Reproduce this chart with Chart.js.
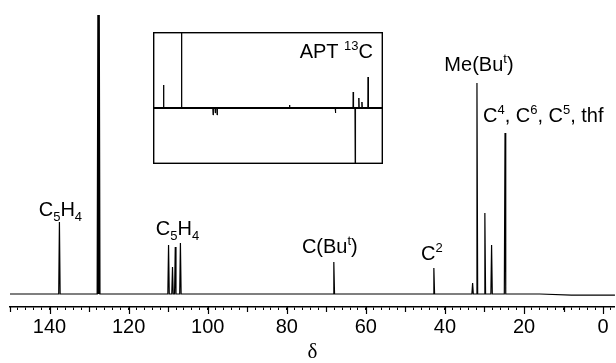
<!DOCTYPE html>
<html>
<head>
<meta charset="utf-8">
<script src="https://cdn.jsdelivr.net/npm/chart.js@4.4.1/dist/chart.umd.min.js"></script>
<style>
html, body { margin: 0; padding: 0; background: #fff; }
#wrap { position: relative; width: 616px; height: 363px; }
#spectrum { position: absolute; left: 0; top: 0; }
#apt { position: absolute; left: 153px; top: 32px; }
</style>
</head>
<body>
<div id="wrap">
  <canvas id="spectrum" width="616" height="363"></canvas>
  <canvas id="apt" width="230" height="132"></canvas>
</div>
<script>
// 13C spectrum: shifts (ppm) and peak heights
const shifts  = [137.5, 127.6, 109.9, 108.9, 108.2, 106.9, 68.1, 42.8, 33.0, 31.9, 29.9, 28.2, 24.8];
const heights = [72, 279, 49, 27, 47, 51, 32, 26, 11, 211, 81, 49, 161];
// baseline sags a little at high field
const baseShifts  = [150, 16, 8, -3];
const baseHeights = [0, 0, -1.2, -1.2];

// APT inset (C and CH2 up, CH and CH3 down)
const aptShifts  = [137.5, 127.6, 110.2, 109.0, 108.0, 68.1, 42.8, 33.0, 31.9, 29.9, 28.2, 24.8];
const aptHeights = [23, 100, -7, -5, -7, 3, -5, 16, -80, 10, 6, 31];

const tickLabels = [140, 120, 100, 80, 60, 40, 20, 0];
const solventShift = 127.6;

const FONT = "'Liberation Sans', Arial, Helvetica, sans-serif";
const HALF = 0.18; // half width of a line, ppm

// turn peak lists into a stick trace (baseline -> top -> baseline)
function buildTrace(xs, ys, bx, by) {
  const pts = [];
  xs.forEach((x, i) => {
    pts.push({ x: x + HALF, y: 0 }, { x: x, y: ys[i] }, { x: x - HALF, y: 0 });
  });
  bx.forEach((x, i) => pts.push({ x: x, y: by[i] }));
  return pts.sort((a, b) => b.x - a.x);
}

// text with sub / superscripts
function drawRich(ctx, parts, x, y, align) {
  const big = 20, small = 13;
  let w = 0;
  parts.forEach(p => {
    ctx.font = (p[1] ? small : big) + 'px ' + FONT;
    w += ctx.measureText(p[0]).width;
  });
  let cx = align === 'center' ? x - w / 2 : (align === 'right' ? x - w : x);
  ctx.textAlign = 'left';
  ctx.textBaseline = 'alphabetic';
  ctx.fillStyle = '#000';
  parts.forEach(p => {
    ctx.font = (p[1] ? small : big) + 'px ' + FONT;
    let dy = p[1] === 'sub' ? 5 : (p[1] === 'sup' ? -8 : 0);
    ctx.fillText(p[0], cx, y + dy);
    cx += ctx.measureText(p[0]).width;
  });
}

const C5H4 = [['C'], ['5', 'sub'], ['H'], ['4', 'sub']];
const notes = [
  { ppm: 137.5, h: 72,  gap: 6,  dx: 1,  align: 'center', parts: C5H4 },
  { ppm: 108.4, h: 51,  gap: 8,  dx: 3,  align: 'center', parts: C5H4 },
  { ppm: 68.1,  h: 32,  gap: 9,  dx: -4, align: 'center', parts: [['C(Bu'], ['t', 'sup'], [')']] },
  { ppm: 42.8,  h: 26,  gap: 8,  dx: -2, align: 'center', parts: [['C'], ['2', 'sup']] },
  { ppm: 31.9,  h: 211, gap: 12, dx: 2,  align: 'center', parts: [['Me(Bu'], ['t', 'sup'], [')']] },
  { ppm: 31.9,  h: 161, gap: 11, dx: 6,  align: 'left',
    parts: [['C'], ['4', 'sup'], [', C'], ['6', 'sup'], [', C'], ['5', 'sup'], [', thf']] }
];

const notesPlugin = {
  id: 'notes',
  afterDatasetsDraw(chart) {
    const ctx = chart.ctx, xs = chart.scales.x, ys = chart.scales.y;
    ctx.save();
    notes.forEach(n => {
      drawRich(ctx, n.parts, xs.getPixelForValue(n.ppm) + n.dx, ys.getPixelForValue(n.h) - n.gap, n.align);
    });
    // longer ticks every 10 / 20 ppm
    const y0 = chart.chartArea.bottom;
    ctx.strokeStyle = '#000';
    ctx.lineWidth = 1.2;
    for (let v = 0; v <= 150; v += 10) {
      const px = Math.round(xs.getPixelForValue(v)) + 0.5;
      ctx.beginPath();
      ctx.moveTo(px, y0);
      ctx.lineTo(px, y0 + (v % 20 === 0 ? 7 : 5));
      ctx.stroke();
    }
    ctx.restore();
  }
};

const nearSolvent = v => Math.abs(v - solventShift) < 0.3;

new Chart(document.getElementById('spectrum'), {
  type: 'line',
  data: {
    datasets: [{
      data: buildTrace(shifts, heights, baseShifts, baseHeights),
      borderColor: '#000',
      borderWidth: 1.2,
      pointRadius: 0,
      tension: 0,
      segment: {
        borderWidth: c => nearSolvent(c.p0.parsed.x) && nearSolvent(c.p1.parsed.x) ? 2.6 : 1.2
      }
    }]
  },
  options: {
    responsive: false,
    animation: false,
    layout: { padding: { left: 10, right: 1, top: 13, bottom: 0 } },
    plugins: { legend: { display: false }, tooltip: { enabled: false } },
    scales: {
      x: {
        type: 'linear',
        reverse: true,
        min: -3,
        max: 150,
        border: { display: true, color: '#000', width: 1.5 },
        grid: { display: true, drawOnChartArea: false, drawTicks: true, tickLength: 3, color: '#000', tickColor: '#000', tickWidth: 1 },
        ticks: {
          stepSize: 2,
          autoSkip: false,
          maxRotation: 0,
          includeBounds: false,
          padding: 5,
          color: '#000',
          font: { family: FONT, size: 20 },
          callback: v => tickLabels.includes(v) ? String(v) : ''
        },
        title: {
          display: true,
          text: 'δ',
          color: '#000',
          font: { family: "'Liberation Serif', 'DejaVu Serif', serif", size: 21, lineHeight: 1 },
          padding: 0
        },
        afterFit: s => { s.height = 56; }
      },
      y: { display: false, min: -13, max: 281 }
    }
  },
  plugins: [notesPlugin]
});

// APT inset
const framePlugin = {
  id: 'frame',
  afterDraw(chart) {
    const ctx = chart.ctx, a = chart.chartArea;
    ctx.save();
    ctx.strokeStyle = '#000';
    ctx.lineWidth = 1.4;
    ctx.strokeRect(a.left + 0.7, a.top + 0.7, a.right - a.left - 1.4, a.bottom - a.top - 1.4);
    drawRich(ctx, [['APT '], ['13', 'sup'], ['C']], a.left + 220, a.top + 26, 'right');
    ctx.restore();
  }
};

new Chart(document.getElementById('apt'), {
  type: 'line',
  data: {
    datasets: [{
      data: buildTrace(aptShifts, aptHeights, [143.3, 16.6], [0, 0]),
      borderColor: '#000',
      borderWidth: 1,
      pointRadius: 0,
      tension: 0
    }, {
      data: [{ x: 143.3, y: 0 }, { x: 16.6, y: 0 }],
      borderColor: '#000',
      borderWidth: 2,
      pointRadius: 0
    }]
  },
  options: {
    responsive: false,
    animation: false,
    layout: { padding: 0 },
    plugins: { legend: { display: false }, tooltip: { enabled: false } },
    scales: {
      x: { type: 'linear', reverse: true, min: 16.6, max: 143.3, display: false },
      y: { display: false, min: -56, max: 76 }
    }
  },
  plugins: [framePlugin]
});
</script>
</body>
</html>
